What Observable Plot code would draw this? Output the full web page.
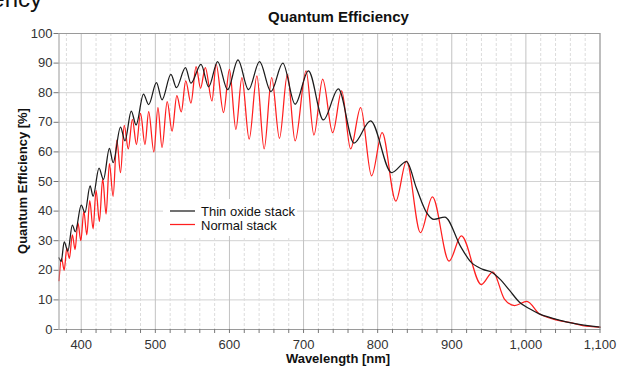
<!DOCTYPE html>
<html>
<head>
<meta charset="utf-8">
<script src="https://cdn.jsdelivr.net/npm/d3@7"></script>
<script src="https://cdn.jsdelivr.net/npm/@observablehq/plot@0.6"></script>
<style>
  body { margin: 0; background: #fff; }
  #chart { width: 623px; height: 371px; overflow: hidden; }
  #chart svg { display: block; }
</style>
</head>
<body>
<div id="chart"></div>
<script>
// Quantum efficiency of two sensor stacks, wavelength in nm, QE in %
const thinWavelength = [370, 373, 377, 382, 388, 392, 400, 405, 412, 416, 424, 430, 438, 443, 453, 459,
  467.5, 474, 484, 491, 501.5, 509, 521, 528.5, 540.6, 548, 561.6, 572, 584, 597.5, 611.5, 625.8,
  640.6, 656, 672, 688.6, 706.6, 726.7, 747, 768, 790.4, 818.7, 838.9, 852, 866, 876, 890.5, 912,
  925, 942, 955, 965, 978, 991.4, 1005, 1018, 1032, 1045, 1059, 1072, 1086, 1100];
const thinQE = [24.2, 23, 29.6, 26.5, 35.3, 33, 42, 39.5, 48.5, 45, 54.5, 50.7, 61.2, 56.4, 68.4, 63.7,
  73.8, 69.1, 79.5, 76, 83.4, 77.6, 86.2, 81.7, 88.5, 83.2, 89.6, 82, 90.5, 81, 91.1, 81,
  90.5, 80.4, 90, 76.1, 87.4, 70.8, 81.3, 63, 70.5, 53, 56.7, 48, 39.5, 37.2, 38, 28,
  23, 20.3, 19.2, 17, 13.2, 9.2, 7, 5.3, 4.1, 3.2, 2.3, 1.7, 1.2, 0.8];

const normalWavelength = [370, 373.5, 377, 380.5, 384, 388, 391.7, 395.5, 399.5, 403.5, 407.5, 411.5,
  416, 420, 424.5, 429, 433.5, 438, 443, 448, 453, 458, 463.5, 469, 474.5, 480, 486, 491, 498,
  503.5, 509, 516, 522.6, 529, 535, 541, 548, 555, 561, 567.4, 576.4, 582, 592, 600, 608.7,
  616.8, 626.6, 637, 646.8, 657, 667.5, 678.2, 688.6, 703.4, 714, 725.8, 739.3, 751.4, 763.5,
  777, 791.8, 806, 824.5, 838.9, 857.7, 873.9, 896.3, 912.9, 939.8, 955.5, 971, 984.7, 1001.3,
  1018, 1031.8, 1045, 1058.7, 1076.7, 1100];
const normalQE = [16.5, 24, 20, 27.5, 24, 32, 27, 36, 30, 40, 32, 43.5,
  34, 47, 36.5, 51, 39, 56, 45, 64, 53, 69, 61, 71, 62.5, 73, 62.5, 73.6, 60,
  75, 61.5, 77, 67, 79, 73.5, 84, 76.5, 88.8, 81.5, 88.5, 77.2, 89.6, 73.3, 87.9, 67.6,
  85.1, 64.3, 85.7, 61, 85.1, 64.6, 86.2, 63.7, 87.4, 65.7, 84.6, 66.5, 80.6, 61,
  75, 51.9, 66.5, 43.4, 56.9, 32.7, 44.8, 23.1, 31.6, 15.2, 19.5, 10.3, 8.1, 9.5,
  5.3, 3.9, 3, 2.4, 1.3, 0.8];

const seriesNames = ["Thin oxide stack", "Normal stack"];
const seriesColors = ["#1c1c1c", "#ff1f1f"];

const yTicks = d3.range(0, 101, 10);
const xTickMarks = d3.range(380, 1101, 20);
const xMajor = d3.range(400, 1101, 100);
const xMinor = xTickMarks.filter(d => d % 100 !== 0);

const thin = thinWavelength.map((w, i) => ({w, qe: thinQE[i]}));
const normal = normalWavelength.map((w, i) => ({w, qe: normalQE[i]}));

const font = "'Liberation Sans', Arial, Helvetica, sans-serif";
const fmt = d3.format(",");

const chart = Plot.plot({
  width: 623,
  height: 371,
  marginLeft: 58.5,
  marginRight: 23.5,
  marginTop: 33,
  marginBottom: 42,
  style: {fontFamily: font, fontSize: "13px", color: "#333", background: "#fff", overflow: "visible"},
  x: {domain: [370, 1100]},
  y: {domain: [0, 100]},
  marks: [
    Plot.gridY(yTicks, {stroke: "#d2d2d2", strokeOpacity: 1}),
    Plot.gridX(xMinor, {stroke: "#dcdcdc", strokeOpacity: 1, strokeDasharray: "3,2"}),
    Plot.gridX(xMajor, {stroke: "#c2c2c2", strokeOpacity: 1}),
    Plot.line(normal, {x: "w", y: "qe", stroke: seriesColors[1], strokeWidth: 1.25, curve: "monotone-x"}),
    Plot.line(thin, {x: "w", y: "qe", stroke: seriesColors[0], strokeWidth: 1.25, curve: "monotone-x"}),
    Plot.frame({stroke: "#9a9a9a"}),
    Plot.axisY(yTicks, {tickSize: 5, tickPadding: 1.5, label: null, fontSize: 13, stroke: "#777"}),
    Plot.axisX(xTickMarks, {tickSize: 4, tickPadding: 6, label: null, fontSize: 13, stroke: "#777",
      tickFormat: d => d % 100 === 0 ? fmt(d) : ""})
  ]
});

const svg = d3.select(chart);

// heading fragment at the top edge
svg.append("text")
  .attr("x", 42).attr("y", 7)
  .attr("text-anchor", "end")
  .attr("font-family", font).attr("font-size", 24).attr("fill", "#111")
  .text("Efficiency");

// title
svg.append("text")
  .attr("x", 338.5).attr("y", 22)
  .attr("text-anchor", "middle")
  .attr("font-family", font).attr("font-size", 15).attr("font-weight", "bold").attr("fill", "#111")
  .text("Quantum Efficiency");

// axis titles
svg.append("text")
  .attr("x", 338).attr("y", 363)
  .attr("text-anchor", "middle")
  .attr("font-family", font).attr("font-size", 13).attr("font-weight", "bold").attr("fill", "#111")
  .text("Wavelength [nm]");

svg.append("text")
  .attr("transform", "translate(26.5,181) rotate(-90)")
  .attr("text-anchor", "middle")
  .attr("font-family", font).attr("font-size", 13).attr("font-weight", "bold").attr("fill", "#111")
  .text("Quantum Efficiency [%]");

// legend on a white patch inside the plot area
const legend = svg.append("g").attr("transform", "translate(163,199)");
legend.append("rect").attr("width", 134).attr("height", 37).attr("fill", "#ffffff").attr("stroke", "none");
seriesNames.forEach((name, i) => {
  const y = 12 + i * 13.5;
  legend.append("line")
    .attr("x1", 7).attr("x2", 32).attr("y1", y).attr("y2", y)
    .attr("stroke", seriesColors[i]).attr("stroke-width", 1.25);
  legend.append("text")
    .attr("x", 38).attr("y", y + 5)
    .attr("text-anchor", "start")
    .attr("font-family", font).attr("font-size", 13).attr("fill", "#111")
    .text(name);
});

document.getElementById("chart").appendChild(chart);
</script>
</body>
</html>
